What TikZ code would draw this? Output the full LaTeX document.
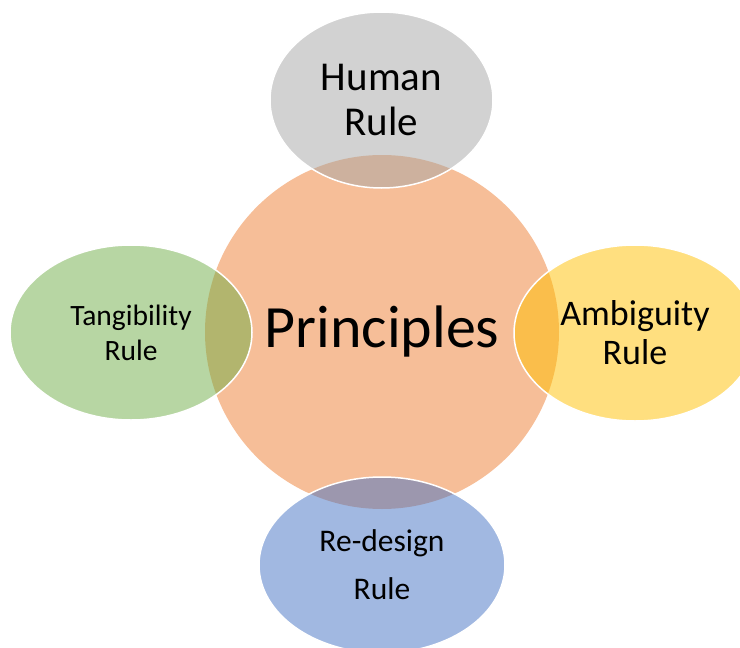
\documentclass[tikz,border=0pt]{standalone}
\usepackage{fontspec}
\setmainfont{Carlito}
\usetikzlibrary{shapes.geometric}

\definecolor{hubcol}{HTML}{ED7D31}
\definecolor{humancol}{HTML}{A5A5A5}
\definecolor{tangcol}{HTML}{70AD47}
\definecolor{ambigcol}{HTML}{FFC000}
\definecolor{redesigncol}{HTML}{4472C4}

\tikzset{
    hub/.style={circle, fill=hubcol, fill opacity=0.5, text opacity=1, minimum size=354pt, inner sep=0pt},
    rulebox/.style={ellipse, fill=#1, fill opacity=0.5, text opacity=1, draw=white, draw opacity=1, line width=1.5pt, inner sep=0pt, align=center}
}

\begin{document}
\begin{tikzpicture}[x=1pt, y=-1pt]
        \useasboundingbox (0,0) rectangle (740,648);

        \node[hub, font=\fontsize{60}{72}\selectfont] (hub) at (382,332) {Principles};

        \node[rulebox=humancol, minimum width=223pt, minimum height=176pt, font=\fontsize{41}{45}\selectfont] (human) at (381.5,100) {Human\\Rule};
        \node[rulebox=tangcol, minimum width=242pt, minimum height=175pt, font=\fontsize{29.5}{35}\selectfont] (tang) at (131,332.5) {Tangibility\\Rule};
        \node[rulebox=ambigcol, minimum width=242pt, minimum height=176pt, font=\fontsize{36}{39}\selectfont] (ambig) at (635,333) {Ambiguity\\Rule};
        \node[rulebox=redesigncol, minimum width=246pt, minimum height=176pt, font=\fontsize{31.5}{48}\selectfont] (redesign) at (382,565) {Re-design\\Rule};
\end{tikzpicture}
\end{document}
